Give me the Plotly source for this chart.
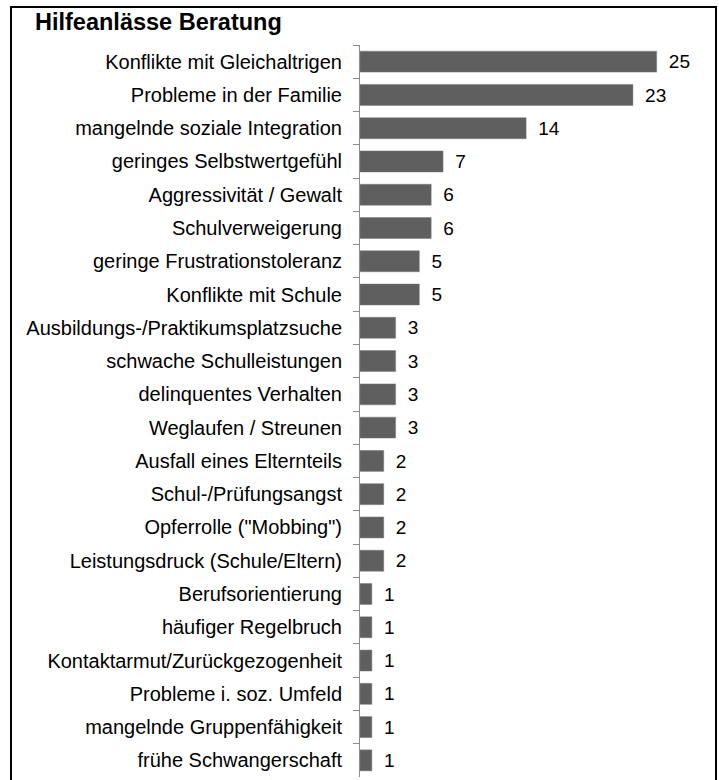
import plotly.graph_objects as go

categories = [
    "Konflikte mit Gleichaltrigen",
    "Probleme in der Familie",
    "mangelnde soziale Integration",
    "geringes Selbstwertgefühl",
    "Aggressivität / Gewalt",
    "Schulverweigerung",
    "geringe Frustrationstoleranz",
    "Konflikte mit Schule",
    "Ausbildungs-/Praktikumsplatzsuche",
    "schwache Schulleistungen",
    "delinquentes Verhalten",
    "Weglaufen / Streunen",
    "Ausfall eines Elternteils",
    "Schul-/Prüfungsangst",
    "Opferrolle (\"Mobbing\")",
    "Leistungsdruck (Schule/Eltern)",
    "Berufsorientierung",
    "häufiger Regelbruch",
    "Kontaktarmut/Zurückgezogenheit",
    "Probleme i. soz. Umfeld",
    "mangelnde Gruppenfähigkeit",
    "frühe Schwangerschaft",
]
values = [25, 23, 14, 7, 6, 6, 5, 5, 3, 3, 3, 3, 2, 2, 2, 2, 1, 1, 1, 1, 1, 1]
title_text = "Hilfeanlässe Beratung"

FONT = "Liberation Sans, Arial, sans-serif"

fig = go.Figure(
    go.Bar(
        x=values,
        y=categories,
        orientation="h",
        marker=dict(color="#5f5f5f", line=dict(color="#7a7a7a", width=0.5)),
        width=0.63,
        texttemplate="\u00a0\u2009%{x}",
        textposition="outside",
        textfont=dict(family=FONT, size=20, color="#000000"),
        cliponaxis=False,
        hoverinfo="skip",
    )
)

fig.update_layout(
    width=719,
    height=780,
    margin=dict(l=360, r=3, t=45, b=3),
    paper_bgcolor="white",
    plot_bgcolor="white",
    showlegend=False,
    font=dict(family=FONT, size=20, color="#000000"),
    title=dict(
        text="<b>" + title_text + "</b>",
        x=35 / 719,
        xanchor="left",
        y=1 - 22 / 780,
        yanchor="middle",
        font=dict(family=FONT, size=23.5, color="#000000"),
    ),
    xaxis=dict(
        range=[0, 30],
        visible=False,
        fixedrange=True,
    ),
    yaxis=dict(
        autorange="reversed",
        showline=True,
        linecolor="#8c8c8c",
        linewidth=1,
        ticks="outside",
        tickson="boundaries",
        ticklen=6,
        tickcolor="#8c8c8c",
        ticklabelstandoff=13,
        showgrid=False,
        tickfont=dict(family=FONT, size=20, color="#000000"),
        fixedrange=True,
    ),
    shapes=[
        dict(
            type="rect",
            xref="paper",
            yref="paper",
            x0=(11 - 360) / 356,
            x1=(716 - 360) / 356,
            y0=-0.05,
            y1=1 + (45 - 7) / 732,
            line=dict(color="#000000", width=2),
            fillcolor="rgba(0,0,0,0)",
            layer="below",
        )
    ],
)

fig.write_html(
    "out.html",
    config={"displayModeBar": False, "staticPlot": True},
    post_script="document.body.style.margin='0';document.body.style.overflow='hidden';",
)
